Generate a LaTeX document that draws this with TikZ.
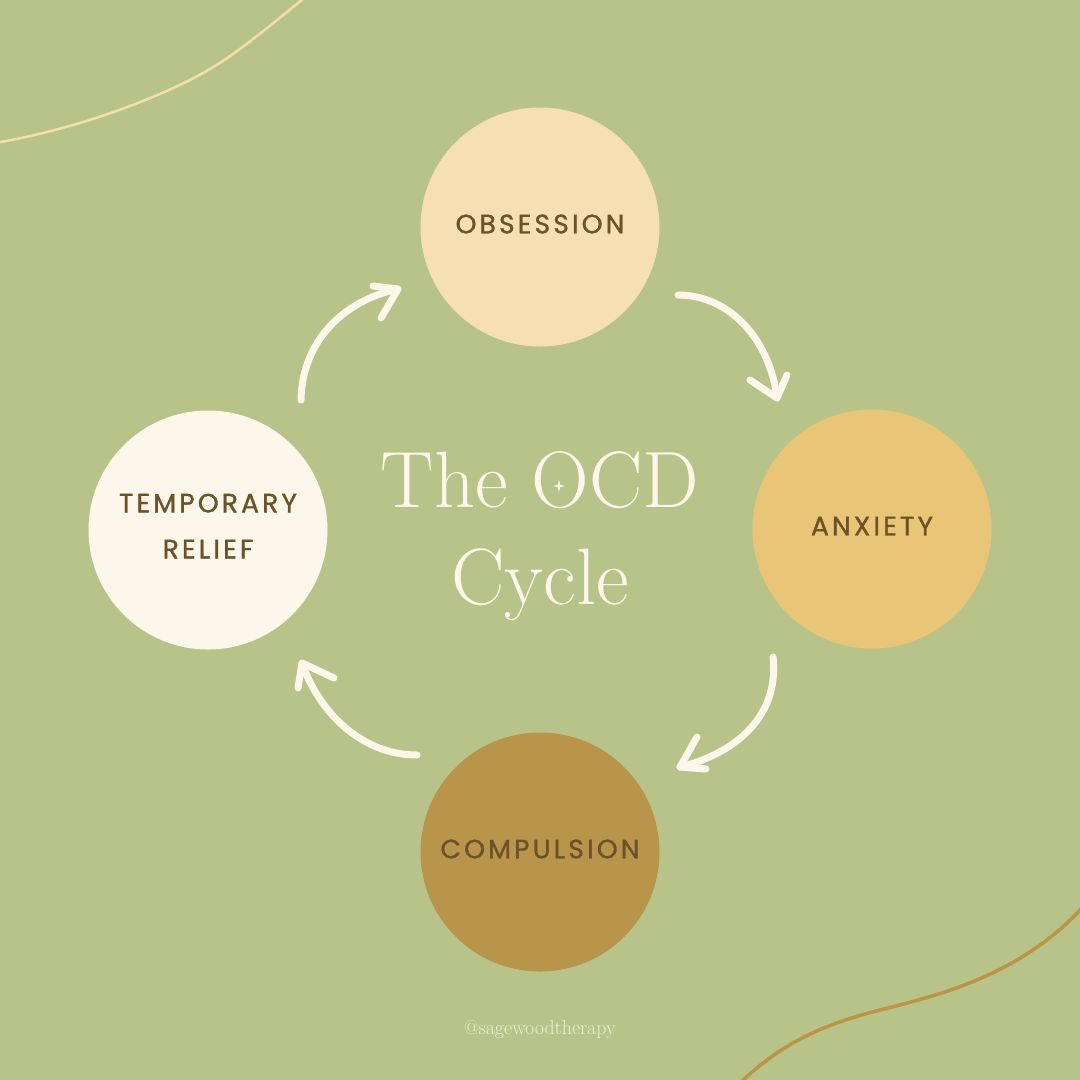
\documentclass[tikz,border=0pt]{standalone}
\usepackage{fontspec}
\newfontfamily\lab[LetterSpace=12,FakeBold=1.2]{Poppins}
\definecolor{bg}{HTML}{B8C389}
\definecolor{cobs}{HTML}{F6E0B1}
\definecolor{canx}{HTML}{E9C677}
\definecolor{ccom}{HTML}{B9954B}
\definecolor{crel}{HTML}{FDF6EA}
\definecolor{ink}{HTML}{6B5228}
\definecolor{cream}{HTML}{FDF6EA}
\definecolor{wm}{HTML}{EEEED6}
\definecolor{lineA}{HTML}{F5DFA9}
\definecolor{lineB}{HTML}{BC9448}
\tikzset{
  stage/.style={circle,minimum size=239pt,inner sep=0pt},
  stagetext/.style={text=ink,align=center,inner sep=0pt,font=\lab\fontsize{26.5}{46}\selectfont},
  cyc/.style={draw=cream,line width=7pt,line cap=round,line join=round}
}
\begin{document}
\begin{tikzpicture}[x=1pt,y=-1pt]
\fill[bg] (0,0) rectangle (1080,1080);
\useasboundingbox (0,0) rectangle (1080,1080);
% corner lines
\draw[lineA,line width=2.5pt] (-2,142.5) .. controls (80,128) and (150,100) .. (190,80) .. controls (230,60) and (262,32) .. (303,-1);
\draw[lineB,line width=3.5pt] (741,1082) .. controls (780,1045) and (820,1025) .. (880,1010) .. controls (940,995) and (1020,975) .. (1082,908);
% stages
\node[stage,fill=cobs] (obs) at (540,227) {};
\node[stage,fill=canx] (anx) at (872,529) {};
\node[stage,fill=ccom] (com) at (540,852) {};
\node[stage,fill=crel] (rel) at (208,530) {};
\node[stagetext] (tobs) at (540,224) {OBSESSION};
\node[stagetext] (tanx) at (872,526) {ANXIETY};
\node[stagetext] (tcom) at (540,849) {COMPULSION};
\node[stagetext] (trel) at (208,526) {TEMPORARY\\RELIEF};
% title
\node[text=cream,align=center,font=\fontsize{80}{97}\selectfont,inner sep=0pt] (title) at (540,536) {The OCD\\Cycle};
\coordinate (star) at (559,486);
\fill[cream] (star) ++(0,-6) -- ++(1.2,4.8) -- ++(4.8,1.2) -- ++(-4.8,1.2) -- ++(-1.2,4.8) -- ++(-1.2,-4.8) -- ++(-4.8,-1.2) -- ++(4.8,-1.2) -- cycle;
% watermark
\node[text=wm,font=\fontsize{20}{20}\selectfont] (wmk) at (540,1030) {@sagewoodtherapy};
% arrows
\coordinate (a1s) at (301,400); \coordinate (a1t) at (398,289);
\coordinate (a2s) at (678,295); \coordinate (a2t) at (777,398);
\coordinate (a3s) at (773,657); \coordinate (a3t) at (680,767);
\coordinate (a4s) at (417,755); \coordinate (a4t) at (302,663);
\draw[cyc] (a1s) .. controls (302,340) and (345,300) .. (a1t);
\draw[cyc] (373,286) -- (a1t) -- (381,318);
\draw[cyc] (a2s) .. controls (730,295) and (770,340) .. (a2t);
\draw[cyc] (750,380) -- (a2t) -- (787,375);
\draw[cyc] (a3s) .. controls (780,720) and (730,755) .. (a3t);
\draw[cyc] (697,737) -- (a3t) -- (706,769);
\draw[cyc] (a4s) .. controls (360,755) and (318,710) .. (a4t);
\draw[cyc] (334,678) -- (a4t) -- (298,688);
\end{tikzpicture}
\end{document}
